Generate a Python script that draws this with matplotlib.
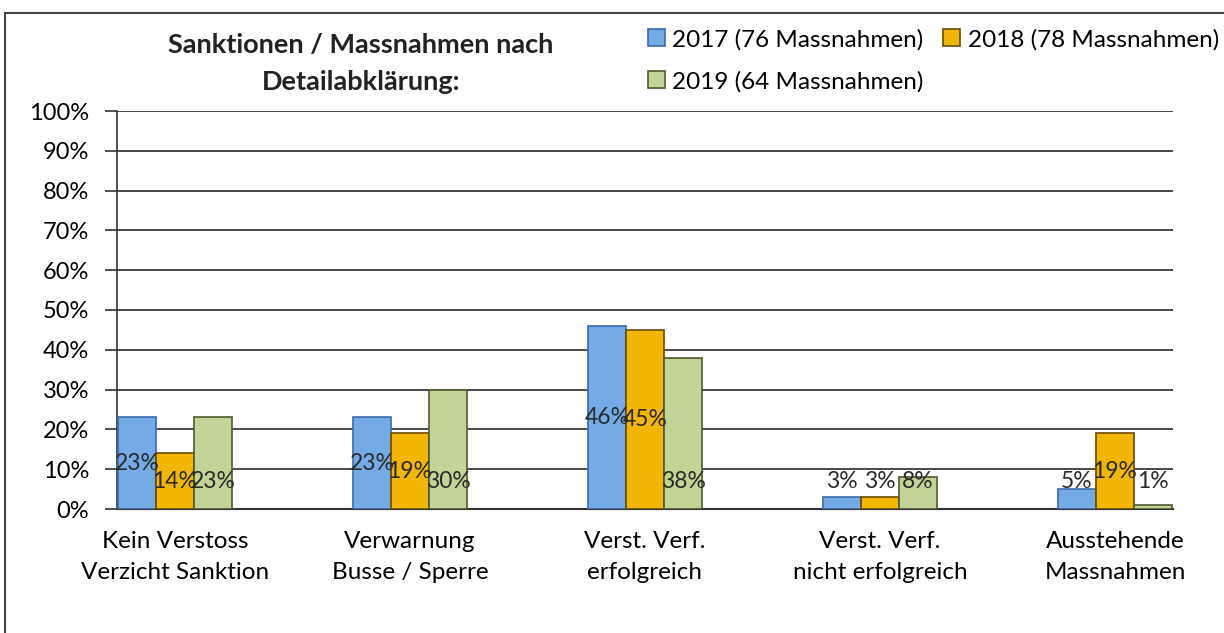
import numpy as np
import matplotlib.pyplot as plt
from matplotlib.patches import Rectangle

categories = ["Kein Verstoss\nVerzicht Sanktion", "Verwarnung\nBusse / Sperre",
              "Verst. Verf.\nerfolgreich", "Verst. Verf.\nnicht erfolgreich",
              "Ausstehende\nMassnahmen"]
series_names = ["2017 (76 Massnahmen)", "2018 (78 Massnahmen)", "2019 (64 Massnahmen)"]
v2017 = [23, 23, 46, 3, 5]
v2018 = [14, 19, 45, 3, 19]
v2019 = [23, 30, 38, 8, 1]
values = [v2017, v2018, v2019]

colors = ["#74aae6", "#f2b705", "#c2d596"]
edges = ["#3d6aa8", "#6b4a00", "#4f5a30"]

plt.rcParams['font.family'] = ['Lato', 'DejaVu Sans']

fig = plt.figure(figsize=(12.24, 6.33), dpi=100)
ax = fig.add_axes([117 / 1224, 1 - 509 / 633, (1173 - 117) / 1224, (509 - 111) / 633])

# outer frame (cut off on right/bottom like the scan)
fig.patches.append(Rectangle((5 / 1224, -0.1), 1.2, 1 - 13 / 633 + 0.1,
                             transform=fig.transFigure, fill=False,
                             edgecolor="#444444", linewidth=1.5))

x = np.arange(len(categories))
w = 38 / 235
handles = []
for i, vals in enumerate(values):
    pos = x + (i - 1) * w
    b = ax.bar(pos, vals, width=w, color=colors[i], edgecolor=edges[i], linewidth=1.2,
               label=series_names[i], zorder=3)
    handles.append(b)
    for p, v in zip(pos, vals):
        # 2019 labels sit near the base, the others mid-bar
        ly = 7 if i == 2 else max(v / 2, 7)
        ax.text(p, ly, "{}%".format(v), ha="center", va="center", fontsize=16.5,
                color="#2a2a2a", zorder=4)

ax.set_xlim(-0.247, 4.247)
ax.set_ylim(0, 100)
ax.set_yticks(np.arange(0, 101, 10))
ax.set_yticklabels(["{}%".format(t) for t in range(0, 101, 10)], fontsize=17)
ax.set_xticks(x)
ax.set_xticklabels(categories, fontsize=17.5, linespacing=1.6)
ax.tick_params(axis="x", length=0, pad=16)
ax.tick_params(axis="y", length=9, width=1.2, color="#333333", pad=11)
ax.grid(axis="y", color="#4a4a4a", linewidth=1.4, zorder=0)
for s in ["top", "right"]:
    ax.spines[s].set_visible(False)
ax.spines["left"].set_color("#333333")
ax.spines["bottom"].set_color("#333333")
ax.spines["left"].set_linewidth(1.2)
ax.spines["bottom"].set_linewidth(1.5)

fig.text(361 / 1224, 1 - 64 / 633, "Sanktionen / Massnahmen nach\nDetailabklärung:",
         ha="center", va="center", fontsize=19.5, fontweight="bold", linespacing=1.65,
         color="#222222")

# row-wise order: 2017, 2018 / 2019
order = [0, 2, 1]
fig.legend([handles[k] for k in order], [series_names[k] for k in order],
           loc="upper left", bbox_to_anchor=(638 / 1224, 1 - 19 / 633), ncol=2,
           frameon=False, fontsize=17.5, handlelength=0.7, handleheight=0.7,
           handletextpad=0.3, columnspacing=0.82, labelspacing=0.85,
           borderaxespad=0)

fig.savefig("out.png", dpi=100)
